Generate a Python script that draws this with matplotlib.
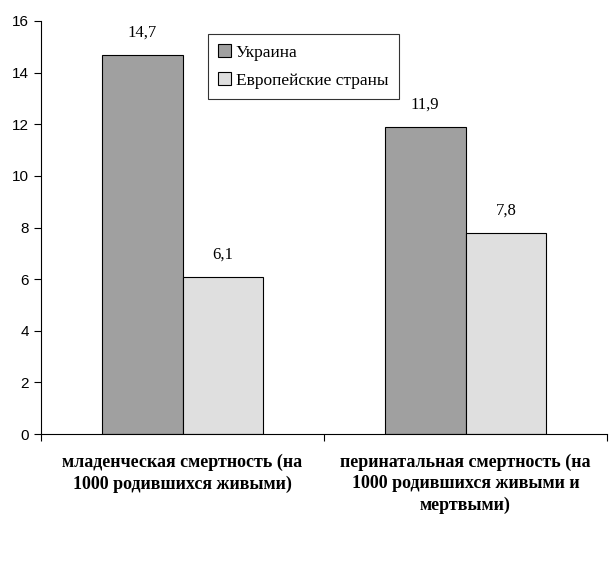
import matplotlib.pyplot as plt
import numpy as np

categories = ["младенческая смертность (на\n1000 родившихся живыми)",
              "перинатальная смертность (на\n1000 родившихся живыми и\nмертвыми)"]
series_names = ["Украина", "Европейские страны"]
ukraine = [14.7, 11.9]
europe = [6.1, 7.8]
colors = ["#a0a0a0", "#dfdfdf"]

fig = plt.figure(figsize=(6.13, 5.69), dpi=100)
ax = fig.add_axes([41 / 613, 1 - 434 / 569, 566 / 613, 413 / 569])

x = np.arange(len(categories))
w = 0.286
bars1 = ax.bar(x - w / 2, ukraine, w, color=colors[0], edgecolor="black", linewidth=0.8, label=series_names[0])
bars2 = ax.bar(x + w / 2, europe, w, color=colors[1], edgecolor="black", linewidth=0.8, label=series_names[1])

for bars, vals in ((bars1, ukraine), (bars2, europe)):
    for b, v in zip(bars, vals):
        ax.text(b.get_x() + b.get_width() / 2, v + 0.55, ("%.1f" % v).replace(".", ","),
                ha="center", va="bottom", family="Liberation Serif", fontsize=12)

ax.set_xlim(-0.5, 1.5)
ax.set_ylim(0, 16)
ax.set_yticks(range(0, 17, 2))
ax.set_yticklabels([str(t) for t in range(0, 17, 2)], family="Liberation Sans", fontsize=11)
ax.set_xticks([-0.5, 0.5, 1.5])
ax.set_xticklabels([])
ax.tick_params(axis="both", direction="out", length=5, width=0.8, colors="black")
ax.spines["top"].set_visible(False)
ax.spines["right"].set_visible(False)

for xi, lab in zip(x, categories):
    ax.text(xi, -0.75, lab, ha="center", va="top", family="Liberation Serif",
            fontweight="bold", fontsize=13, linespacing=1.35)

leg = ax.legend(loc="upper left", bbox_to_anchor=(208 / 613, 1 - 34 / 569),
                bbox_transform=fig.transFigure, borderaxespad=0, fancybox=False,
                edgecolor="black", prop={"family": "Liberation Serif", "size": 12.5},
                handlelength=0.75, handleheight=0.75, handletextpad=0.25, labelspacing=0.65,
                borderpad=0.6)
leg.get_frame().set_linewidth(0.8)

fig.savefig("out.png", dpi=100)
